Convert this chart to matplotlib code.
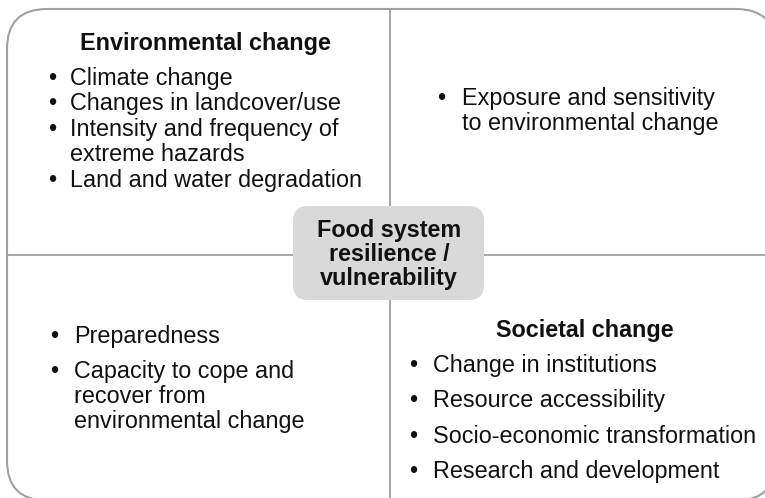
import matplotlib.pyplot as plt
from matplotlib.patches import FancyBboxPatch

plt.rcParams['font.family'] = ['Liberation Sans', 'DejaVu Sans']

# text content of the four quadrants and the centre box
env_title = "Environmental change"
env_items = [["Climate change"],
             ["Changes in landcover/use"],
             ["Intensity and frequency of", "extreme hazards"],
             ["Land and water degradation"]]
exposure_items = [["Exposure and sensitivity", "to environmental change"]]
coping_items = [["Preparedness"],
                ["Capacity to cope and", "recover from", "environmental change"]]
soc_title = "Societal change"
soc_items = [["Change in institutions"],
             ["Resource accessibility"],
             ["Socio-economic transformation"],
             ["Research and development"]]
centre_lines = ["Food system", "resilience /", "vulnerability"]

W, H = 765, 498
fs = 16.8
txt = '#111111'
grey = '#a0a0a0'

fig = plt.figure(figsize=(W / 100, H / 100), dpi=100)
ax = fig.add_axes([0, 0, 1, 1])
ax.set_xlim(0, W)
ax.set_ylim(H, 0)
ax.axis('off')

# outer rounded frame (runs a little past the right and bottom edges)
ax.add_patch(FancyBboxPatch((7, 9), 769, 491.5,
                            boxstyle="round,pad=0,rounding_size=40",
                            fc='white', ec=grey, lw=1.5, zorder=1))
# dividers
ax.plot([390, 390], [9, 500], color=grey, lw=1.3, zorder=2)
ax.plot([7, 776], [255, 255], color=grey, lw=1.3, zorder=2)

# centre box
ax.add_patch(FancyBboxPatch((293, 206), 191, 94,
                            boxstyle="round,pad=0,rounding_size=15",
                            fc='#d9d9d9', ec='none', zorder=3))
for i, s in enumerate(centre_lines):
    ax.text(389, 237 + i * 24, s, ha='center', va='baseline', fontsize=fs,
            fontweight='bold', color=txt, zorder=4)


def bullets(items, bx, tx, baselines):
    k = 0
    for item in items:
        ax.text(bx, baselines[k], "\u2022", ha='center', va='baseline',
                fontsize=fs, color=txt, zorder=4)
        for line in item:
            ax.text(tx, baselines[k], line, ha='left', va='baseline',
                    fontsize=fs, color=txt, zorder=4)
            k += 1


ax.text(205, 50, env_title, ha='center', va='baseline', fontsize=fs,
        fontweight='bold', color=txt, zorder=4)
bullets(env_items, 52, 70, [85, 110, 136, 161, 187])

bullets(exposure_items, 441, 462, [105, 130])

bullets(coping_items, 54, 74, [343, 378, 403, 428])

ax.text(585, 337, soc_title, ha='center', va='baseline', fontsize=fs,
        fontweight='bold', color=txt, zorder=4)
bullets(soc_items, 413, 433, [372, 407, 443, 478])

fig.savefig('out.png', dpi=100)
